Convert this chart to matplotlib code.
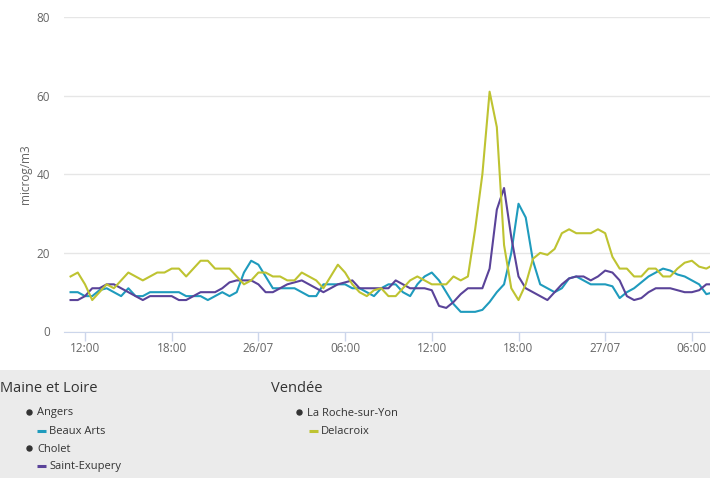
import numpy as np
import matplotlib
matplotlib.use("Agg")
import matplotlib.pyplot as plt
from matplotlib.patches import Rectangle

plt.rcParams['font.family'] = ['Open Sans', 'DejaVu Sans']

# half-hourly readings, hours counted from 25/07 00:00
hours = np.arange(11.0, 56.0, 0.5)

beaux_arts = [10, 10, 9, 9, 10.5, 11, 10, 9, 11, 9, 9, 10, 10, 10, 10, 10,
              9, 9, 9, 8, 9, 10, 9, 10, 15, 18, 17, 14, 11, 11, 11, 11,
              10, 9, 9, 12, 12, 12, 12, 11, 11, 10, 9, 11, 12, 12, 10, 9,
              12, 14, 15, 13, 10, 7, 5, 5, 5, 5.5, 7.5, 10, 12, 20, 32.5, 29,
              18, 12, 11, 10, 11, 13.5, 14, 13, 12, 12, 12, 11.5, 8.5, 10, 11, 12.5,
              14, 15, 16, 15.5, 14.5, 14, 13, 12, 9.5, 10]

saint_exupery = [8, 8, 9, 11, 11, 12, 12, 11, 10, 9, 8, 9, 9, 9, 9, 8,
                 8, 9, 10, 10, 10, 11, 12.5, 13, 13, 13, 12, 10, 10, 11, 12, 12.5,
                 13, 12, 11, 10, 11, 12, 12.5, 13, 11, 11, 11, 11, 11, 13, 12, 11,
                 11, 11, 10.5, 6.5, 6, 7.5, 9.5, 11, 11, 11, 16, 31, 36.5, 24,
                 14, 11, 10, 9, 8, 10, 12, 13.5, 14, 14, 13, 14, 15.5, 15, 13, 9,
                 8, 8.5, 10, 11, 11, 11, 10.5, 10, 10, 10.5, 12, 12]

delacroix = [14, 15, 12, 8, 10, 12, 11, 13, 15, 14, 13, 14, 15, 15, 16, 16,
             14, 16, 18, 18, 16, 16, 16, 14, 12, 13, 15, 15, 14, 14, 13, 13,
             15, 14, 13, 11, 14, 17, 15, 12, 10, 9, 10.5, 11, 9, 9, 11, 13,
             14, 13, 12, 12, 12, 14, 13, 14, 26, 40, 61, 52, 22, 11, 8, 12,
             18.5, 20, 19.5, 21, 25, 26, 25, 25, 25, 26, 25, 19, 16, 16, 14, 14,
             16, 16, 14, 14, 16, 17.5, 18, 16.5, 16, 17]

tick_hours = [12, 18, 24, 30, 36, 42, 48, 54]
tick_labels = ['12:00', '18:00', '26/07', '06:00', '12:00', '18:00', '27/07', '06:00']
y_ticks = [0, 20, 40, 60, 80]

teal = '#1f9bbd'
purple = '#5a4399'
olive = '#bec331'

W, H = 710, 478
fig = plt.figure(figsize=(W / 100, H / 100), dpi=100)

# grey legend band at the bottom
fig.patches.append(Rectangle((0, 0), 1, 108 / H, transform=fig.transFigure,
                             facecolor='#ebebeb', edgecolor='none', zorder=0))

ax = fig.add_axes([64 / W, 1 - 331.5 / H, (W - 64) / W, 314.5 / H])
ax.plot(hours, beaux_arts, color=teal, lw=1.5)
ax.plot(hours, saint_exupery, color=purple, lw=1.5)
ax.plot(hours, delacroix, color=olive, lw=1.5)

ax.set_xlim(12 + (64 - 85) / 14.45, 12 + (710 - 85) / 14.45)
ax.set_ylim(0, 80)
ax.set_yticks(y_ticks)
ax.set_xticks(tick_hours)
ax.set_xticklabels(tick_labels)
ax.grid(axis='y', color='#e6e6e6', lw=1)
ax.set_axisbelow(True)
for s in ['top', 'right', 'left']:
    ax.spines[s].set_visible(False)
ax.spines['bottom'].set_color('#ccd6eb')
ax.tick_params(axis='x', colors='#ccd6eb', length=6.5, width=1, labelcolor='#666666',
               labelsize=8.5, pad=1)
ax.tick_params(axis='y', length=0, labelcolor='#666666', labelsize=8.5, pad=10)
ax.set_ylabel('microg/m3', color='#666666', fontsize=8.5)
ax.yaxis.set_label_coords(-0.05, 0.5)

# legend, grouped by département
def px(x, y):
    return x / W, 1 - y / H

fig.text(*px(0, 388), 'Maine et Loire', fontsize=10.5, color='#333333', va='center')
fig.text(*px(271, 388), 'Vendée', fontsize=10.5, color='#333333', va='center')

items = [
    (28, 413, None, 'Angers'),
    (37, 431, teal, 'Beaux Arts'),
    (28, 449, None, 'Cholet'),
    (37, 466, purple, 'Saint-Exupery'),
    (298, 413, None, 'La Roche-sur-Yon'),
    (309, 431, olive, 'Delacroix'),
]
for x, y, col, label in items:
    if col is None:
        fig.add_artist(plt.Line2D([(x + 0.5) / W], [1 - (y - 1) / H], transform=fig.transFigure,
                                  marker='o', ms=3.6, color='#333333', lw=0))
        fig.text(*px(x + 9, y), label, fontsize=8, color='#333333', va='center')
    else:
        fig.add_artist(plt.Line2D([x / W, (x + 9) / W], [1 - y / H, 1 - y / H],
                                  transform=fig.transFigure, color=col, lw=2.2,
                                  solid_capstyle='butt'))
        fig.text(*px(x + 12, y), label, fontsize=8, color='#333333', va='center')

fig.savefig('out.png', dpi=100)
